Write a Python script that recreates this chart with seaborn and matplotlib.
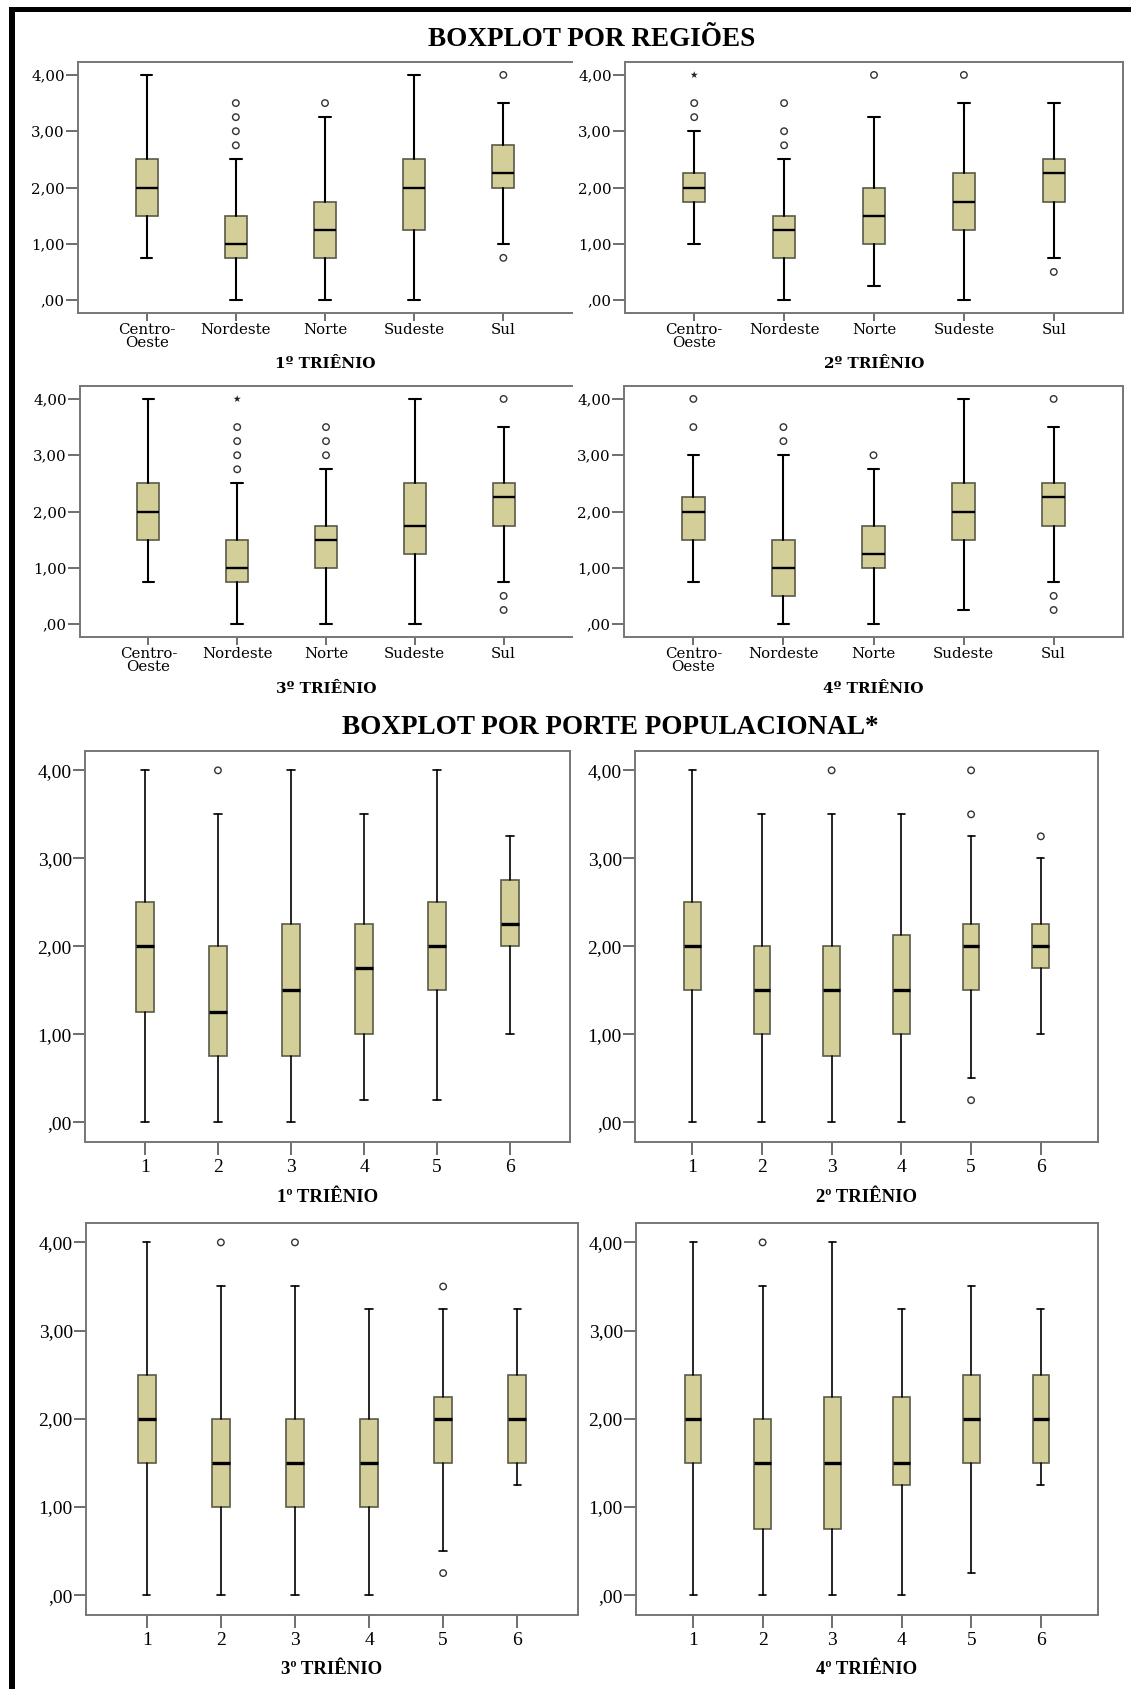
import matplotlib
matplotlib.use("Agg")
import matplotlib.pyplot as plt
from matplotlib.patches import Rectangle
from matplotlib.ticker import FixedLocator, FuncFormatter
import seaborn as sns
import pandas as pd

# ---------------- DATA ----------------
REGIONS = ["Centro-\nOeste", "Nordeste", "Norte", "Sudeste", "Sul"]
PORTES = ["1", "2", "3", "4", "5", "6"]
TRIENIOS = ["1º TRIÊNIO", "2º TRIÊNIO", "3º TRIÊNIO", "4º TRIÊNIO"]

# five-number summaries per category: [whisker low, Q1, median, Q3, whisker high]
REG_T1 = [[0.75, 1.5, 2.0, 2.5, 4.0], [0.0, 0.75, 1.0, 1.5, 2.5], [0.0, 0.75, 1.25, 1.75, 3.25],
          [0.0, 1.25, 2.0, 2.5, 4.0], [1.0, 2.0, 2.25, 2.75, 3.5]]
REG_T2 = [[1.0, 1.75, 2.0, 2.25, 3.0], [0.0, 0.75, 1.25, 1.5, 2.5], [0.25, 1.0, 1.5, 2.0, 3.25],
          [0.0, 1.25, 1.75, 2.25, 3.5], [0.75, 1.75, 2.25, 2.5, 3.5]]
REG_T3 = [[0.75, 1.5, 2.0, 2.5, 4.0], [0.0, 0.75, 1.0, 1.5, 2.5], [0.0, 1.0, 1.5, 1.75, 2.75],
          [0.0, 1.25, 1.75, 2.5, 4.0], [0.75, 1.75, 2.25, 2.5, 3.5]]
REG_T4 = [[0.75, 1.5, 2.0, 2.25, 3.0], [0.0, 0.5, 1.0, 1.5, 3.0], [0.0, 1.0, 1.25, 1.75, 2.75],
          [0.25, 1.5, 2.0, 2.5, 4.0], [0.75, 1.75, 2.25, 2.5, 3.5]]

POP_T1 = [[0.0, 1.25, 2.0, 2.5, 4.0], [0.0, 0.75, 1.25, 2.0, 3.5], [0.0, 0.75, 1.5, 2.25, 4.0],
          [0.25, 1.0, 1.75, 2.25, 3.5], [0.25, 1.5, 2.0, 2.5, 4.0], [1.0, 2.0, 2.25, 2.75, 3.25]]
POP_T2 = [[0.0, 1.5, 2.0, 2.5, 4.0], [0.0, 1.0, 1.5, 2.0, 3.5], [0.0, 0.75, 1.5, 2.0, 3.5],
          [0.0, 1.0, 1.5, 2.125, 3.5], [0.5, 1.5, 2.0, 2.25, 3.25], [1.0, 1.75, 2.0, 2.25, 3.0]]
POP_T3 = [[0.0, 1.5, 2.0, 2.5, 4.0], [0.0, 1.0, 1.5, 2.0, 3.5], [0.0, 1.0, 1.5, 2.0, 3.5],
          [0.0, 1.0, 1.5, 2.0, 3.25], [0.5, 1.5, 2.0, 2.25, 3.25], [1.25, 1.5, 2.0, 2.5, 3.25]]
POP_T4 = [[0.0, 1.5, 2.0, 2.5, 4.0], [0.0, 0.75, 1.5, 2.0, 3.5], [0.0, 0.75, 1.5, 2.25, 4.0],
          [0.0, 1.25, 1.5, 2.25, 3.25], [0.25, 1.5, 2.0, 2.5, 3.5], [1.25, 1.5, 2.0, 2.5, 3.25]]

# outliers (circles) and extremes (stars): (category index, value)
REG_T1_OUT = [(1, 2.75), (1, 3.0), (1, 3.25), (1, 3.5), (2, 3.5), (4, 4.0), (4, 0.75)]
REG_T1_EXT = []
REG_T2_OUT = [(0, 3.25), (0, 3.5), (1, 2.75), (1, 3.0), (1, 3.5), (2, 4.0), (3, 4.0), (4, 0.5)]
REG_T2_EXT = [(0, 4.0)]
REG_T3_OUT = [(1, 2.75), (1, 3.0), (1, 3.25), (1, 3.5), (2, 3.0), (2, 3.25), (2, 3.5),
              (4, 4.0), (4, 0.5), (4, 0.25)]
REG_T3_EXT = [(1, 4.0)]
REG_T4_OUT = [(0, 3.5), (0, 4.0), (1, 3.25), (1, 3.5), (2, 3.0), (4, 4.0), (4, 0.5), (4, 0.25)]
REG_T4_EXT = []

POP_T1_OUT = [(1, 4.0)]
POP_T2_OUT = [(2, 4.0), (4, 3.5), (4, 4.0), (4, 0.25), (5, 3.25)]
POP_T3_OUT = [(1, 4.0), (2, 4.0), (4, 3.5), (4, 0.25)]
POP_T4_OUT = [(1, 4.0)]

TITLE_REG = "BOXPLOT POR REGIÕES"
TITLE_POP = "BOXPLOT POR PORTE POPULACIONAL*"
Y_TICKS = [0.0, 1.0, 2.0, 3.0, 4.0]

# ---------------- STYLE ----------------
sns.set_theme(style="white")
plt.rcParams["font.family"] = ["Liberation Serif", "DejaVu Serif"]

W, H = 1131, 1689
fig = plt.figure(figsize=(W / 100, H / 100), dpi=100)
fig.patch.set_facecolor("white")

BOX_FILL = "#D4CF98"
BOX_EDGE = "#5a5a48"
SPINE = "#767676"


def add_ax(l, r, t, b):
    return fig.add_axes([l / W, 1 - b / H, (r - l) / W, (b - t) / H])


def yfmt(v, _):
    return ",00" if abs(v) < 1e-9 else f"{v:.2f}".replace(".", ",")


def panel(ax, summ, cats, outs, exts, xlabel, top):
    stats = []
    for s in summ:
        stats.append(dict(whislo=s[0], q1=s[1], med=s[2], q3=s[3], whishi=s[4], fliers=[]))
    pos = list(range(len(cats)))
    lw = 1.5 if top else 1.2
    ax.bxp(stats, positions=pos, widths=0.25 if top else 0.24, capwidths=0.13 if top else 0.1,
           patch_artist=True, showfliers=False,
           boxprops=dict(facecolor=BOX_FILL, edgecolor=BOX_EDGE, linewidth=1.2),
           medianprops=dict(color="black", linewidth=1.7 if top else 2.4),
           whiskerprops=dict(color="black", linewidth=lw),
           capprops=dict(color="black", linewidth=lw))
    if outs:
        d = pd.DataFrame(outs, columns=["pos", "val"])
        sns.scatterplot(data=d, x="pos", y="val", ax=ax, marker="o", s=22,
                        color="#333333", facecolor="none", edgecolor="#333333",
                        linewidth=1.0, zorder=5, legend=False)
    if exts:
        d = pd.DataFrame(exts, columns=["pos", "val"])
        sns.scatterplot(data=d, x="pos", y="val", ax=ax, marker="*", s=30,
                        color="#222222", edgecolor="none", linewidth=0, zorder=5, legend=False)
    n = len(cats)
    if top:
        ax.set_xlim(-0.77, n - 1 + 0.77)
        ax.set_ylim(-0.23, 4.23)
        fam = ["DejaVu Serif"]
        tsize, lsize = 10.8, 11
    else:
        ax.set_xlim(-0.82, n - 1 + 0.82)
        ax.set_ylim(-0.225, 4.22)
        fam = ["Liberation Serif"]
        tsize, lsize = 14, 13.5
    ax.xaxis.set_major_locator(FixedLocator(pos))
    ax.set_xticklabels(cats, fontfamily=fam, fontsize=tsize, linespacing=0.85)
    ax.yaxis.set_major_locator(FixedLocator(Y_TICKS))
    ax.yaxis.set_major_formatter(FuncFormatter(yfmt))
    for lab in ax.get_yticklabels():
        lab.set_fontfamily(fam)
        lab.set_fontsize(tsize)
    ax.tick_params(axis="x", bottom=True, length=6 if top else 9, width=1.2, color="#555555",
                   pad=1.5 if top else 3, labelcolor="black")
    ax.tick_params(axis="y", left=True, length=9, width=1.2, color="#555555", pad=0.5,
                   labelcolor="black")
    ax.set_xlabel(xlabel, fontfamily=fam, fontsize=lsize, fontweight="bold", color="black")
    ax.set_ylabel("")
    for sp in ax.spines.values():
        sp.set_color(SPINE)
        sp.set_linewidth(1.4)
        sp.set_visible(True)
    ax.set_facecolor("white")
    ax.grid(False)


# ---- top section: regions ----
ax1 = add_ax(78, 572, 62, 313)
panel(ax1, REG_T1, REGIONS, REG_T1_OUT, REG_T1_EXT, TRIENIOS[0], True)
ax2 = add_ax(625, 1123, 62, 313)
panel(ax2, REG_T2, REGIONS, REG_T2_OUT, REG_T2_EXT, TRIENIOS[1], True)
ax3 = add_ax(80, 572, 386, 637)
panel(ax3, REG_T3, REGIONS, REG_T3_OUT, REG_T3_EXT, TRIENIOS[2], True)
ax4 = add_ax(624, 1123, 386, 637)
panel(ax4, REG_T4, REGIONS, REG_T4_OUT, REG_T4_EXT, TRIENIOS[3], True)
for a in (ax1, ax3):
    a.spines["right"].set_visible(False)
for a in (ax1, ax2):
    a.xaxis.set_label_coords(0.5, -(364 - 313) / 251)
for a in (ax3, ax4):
    a.xaxis.set_label_coords(0.5, -(689 - 637) / 251)
for a in (ax1, ax2, ax3, ax4):
    a.xaxis.label.set_va("center")

# ---- bottom section: population size ----
ax5 = add_ax(85, 570, 751, 1142)
panel(ax5, POP_T1, PORTES, POP_T1_OUT, [], TRIENIOS[0], False)
ax6 = add_ax(635, 1098, 751, 1142)
panel(ax6, POP_T2, PORTES, POP_T2_OUT, [], TRIENIOS[1], False)
ax7 = add_ax(86, 578, 1223, 1615)
panel(ax7, POP_T3, PORTES, POP_T3_OUT, [], TRIENIOS[2], False)
ax8 = add_ax(636, 1098, 1223, 1615)
panel(ax8, POP_T4, PORTES, POP_T4_OUT, [], TRIENIOS[3], False)
for a in (ax5, ax6):
    a.xaxis.set_label_coords(0.5, -(1197 - 1142) / 391)
for a in (ax7, ax8):
    a.xaxis.set_label_coords(0.5, -(1670 - 1615) / 392)
for a in (ax5, ax6, ax7, ax8):
    a.xaxis.label.set_va("center")

# ---- titles ----
fig.text(592 / W, 1 - 39 / H, TITLE_REG, ha="center", va="center", fontsize=19.5,
         fontweight="bold", fontfamily=["Liberation Serif"], color="black")
fig.text(610 / W, 1 - 728 / H, TITLE_POP, ha="center", va="center", fontsize=19.5,
         fontweight="bold", fontfamily=["Liberation Serif"], color="black")

# ---- page border (thick black lines top and left) ----
fig.add_artist(Rectangle((9 / W, 1 - 12 / H), (W - 9) / W, 5 / H, transform=fig.transFigure,
                         facecolor="black", edgecolor="none"))
fig.add_artist(Rectangle((9 / W, 0), 6 / W, (H - 7) / H, transform=fig.transFigure,
                         facecolor="black", edgecolor="none"))

fig.savefig("out.png", dpi=100, facecolor="white")
